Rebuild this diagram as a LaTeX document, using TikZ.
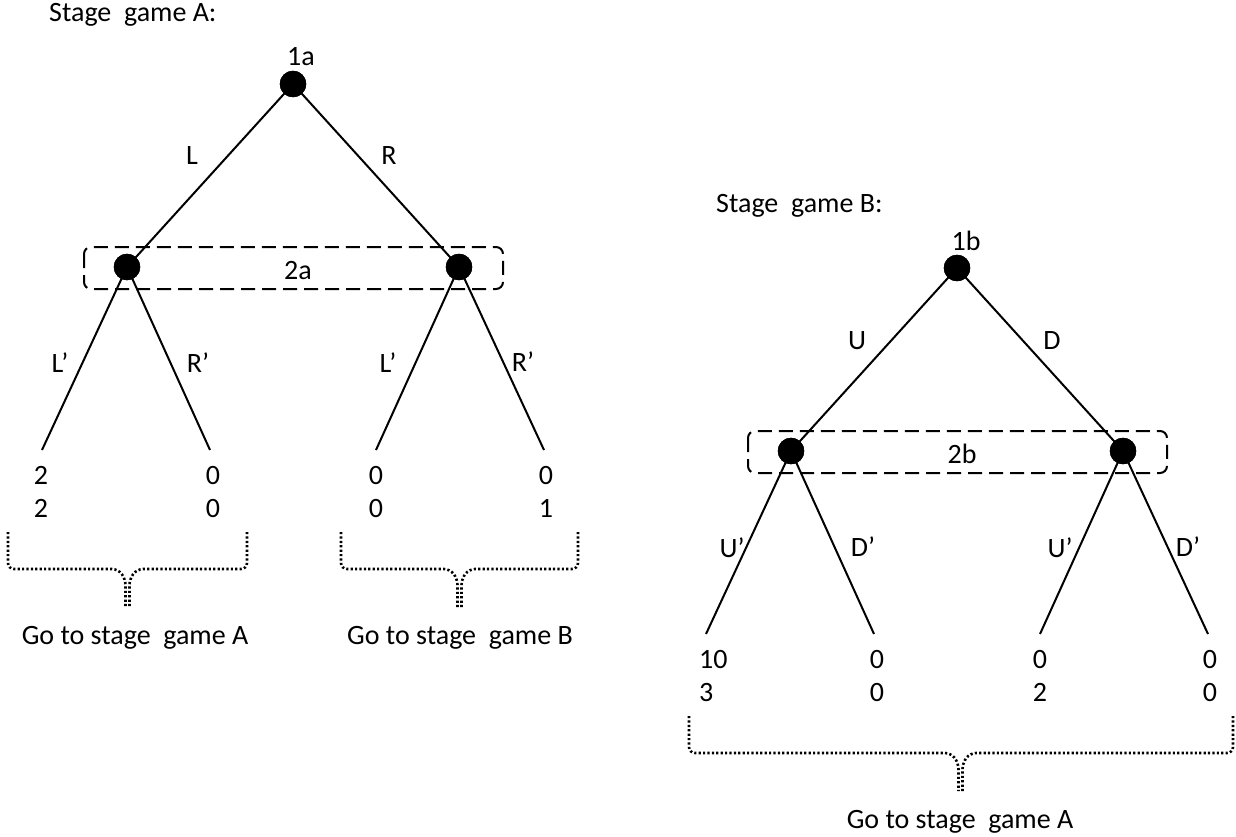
\documentclass[tikz,border=0pt]{standalone}
\usepackage{fontspec}
\setmainfont{Carlito}
\begin{document}
\begin{tikzpicture}[x=1pt,y=-1pt,
  txt/.style={font=\fontsize{28}{34}\selectfont, inner sep=0pt, anchor=base},
  dot/.style={circle, fill=black, draw=black, minimum size=26pt, inner sep=0pt},
  edge/.style={line width=2pt, black},
  infoset/.style={line width=2pt, dash pattern=on 14pt off 7pt, rounded corners=7pt},
  brace/.style={line width=2.6pt, dash pattern=on 2.2pt off 2.2pt, rounded corners=6pt}
]
\path[use as bounding box] (0,0) rectangle (1236,837);

% ---------------- Stage game A ----------------
\node[txt, anchor=base west] (titleA) at (49,22) {Stage\ \ game A:};
\node[dot] (a1) at (293,84) {};
\node[txt] (a1lab) at (301,66) {1a};
\node[dot] (a2l) at (127,267) {};
\node[dot] (a2r) at (459,267) {};
\draw[infoset] (84,247) rectangle (503,289);
\node[txt] (a2lab) at (298,279) {2a};
\coordinate (all) at (42,450);
\coordinate (alr) at (210,450);
\coordinate (arl) at (376,450);
\coordinate (arr) at (544,450);
\draw[edge] (a1.center) -- (a2l.center);
\draw[edge] (a1.center) -- (a2r.center);
\draw[edge] (a2l.center) -- (all);
\draw[edge] (a2l.center) -- (alr);
\draw[edge] (a2r.center) -- (arl);
\draw[edge] (a2r.center) -- (arr);
\node[dot] at (a1) {};
\node[dot] at (a2l) {};
\node[dot] at (a2r) {};
\node[txt] (labL) at (192,165) {L};
\node[txt] (labR) at (389,165) {R};
\node[txt] (labLp1) at (60,372) {L’};
\node[txt] (labRp1) at (198,372) {R’};
\node[txt] (labLp2) at (388,372) {L’};
\node[txt] (labRp2) at (523,371) {R’};
\node[txt] (pa1) at (41,484) {2};
\node[txt] (pa1b) at (41,517) {2};
\node[txt] (pa2) at (213,484) {0};
\node[txt] (pa2b) at (213,517) {0};
\node[txt] (pa3) at (376,484) {0};
\node[txt] (pa3b) at (376,517) {0};
\node[txt] (pa4) at (546,484) {0};
\node[txt] (pa4b) at (546,517) {1};
% braces
\draw[brace] (8,532) -- (8,569) -- (118,569) -- (125.5,579) -- (125.5,607);
\draw[brace] (247,532) -- (247,569) -- (137,569) -- (129.5,579) -- (129.5,607);
\draw[brace] (341,532) -- (341,569) -- (450,569) -- (457.5,579) -- (457.5,607);
\draw[brace] (578,532) -- (578,569) -- (469,569) -- (461.5,579) -- (461.5,607);
\node[txt] (goA1) at (135,644) {Go to stage\ \ game A};
\node[txt] (goB1) at (460,644) {Go to stage\ \ game B};

% ---------------- Stage game B ----------------
\node[txt, anchor=base west] (titleB) at (716,212) {Stage\ \ game B:};
\node[dot] (b1) at (957,268) {};
\node[txt] (b1lab) at (966,250) {1b};
\node[dot] (b2l) at (791,451) {};
\node[dot] (b2r) at (1123,451) {};
\draw[infoset] (748,431) rectangle (1167,473);
\node[txt] (b2lab) at (962,463) {2b};
\coordinate (bll) at (706,634);
\coordinate (blr) at (874,634);
\coordinate (brl) at (1040,634);
\coordinate (brr) at (1208,634);
\draw[edge] (b1.center) -- (b2l.center);
\draw[edge] (b1.center) -- (b2r.center);
\draw[edge] (b2l.center) -- (bll);
\draw[edge] (b2l.center) -- (blr);
\draw[edge] (b2r.center) -- (brl);
\draw[edge] (b2r.center) -- (brr);
\node[dot] at (b1) {};
\node[dot] at (b2l) {};
\node[dot] at (b2r) {};
\node[txt] (labU) at (857,349) {U};
\node[txt] (labD) at (1052,349) {D};
\node[txt] (labUp1) at (732,557) {U’};
\node[txt] (labDp1) at (863,556) {D’};
\node[txt] (labUp2) at (1060,557) {U’};
\node[txt] (labDp2) at (1188,556) {D’};
\node[txt, anchor=base west] (pb1) at (699,668) {10};
\node[txt, anchor=base west] (pb1b) at (699,701) {3};
\node[txt] (pb2) at (877,668) {0};
\node[txt] (pb2b) at (877,701) {0};
\node[txt] (pb3) at (1040,668) {0};
\node[txt] (pb3b) at (1040,701) {2};
\node[txt] (pb4) at (1210,668) {0};
\node[txt] (pb4b) at (1210,701) {0};
\draw[brace] (689,716) -- (689,753) -- (951,753) -- (958.5,763) -- (958.5,791);
\draw[brace] (1233,716) -- (1233,753) -- (970,753) -- (962.5,763) -- (962.5,791);
\node[txt] (goA2) at (960,828) {Go to stage\ \ game A};
\end{tikzpicture}
\end{document}
